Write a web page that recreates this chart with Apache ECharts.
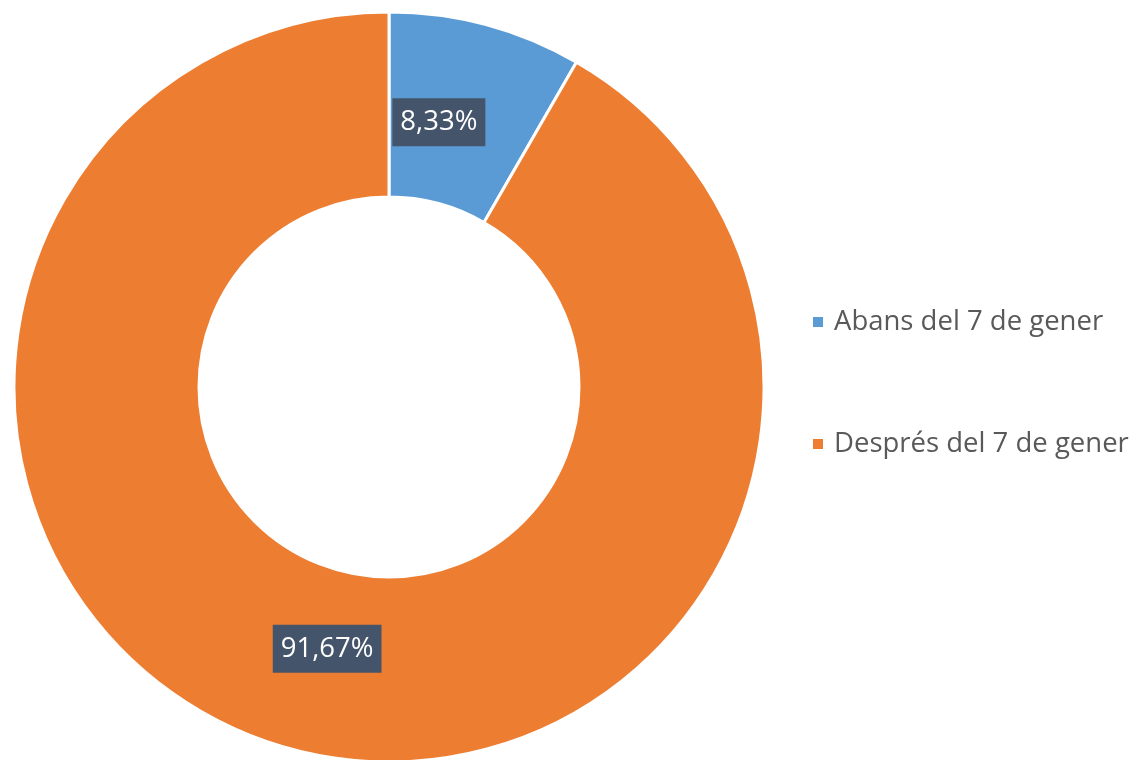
<!DOCTYPE html>
<html>
<head>
<meta charset="utf-8">
<script src="https://cdn.jsdelivr.net/npm/echarts@6/dist/echarts.min.js"></script>
<style>html,body{margin:0;padding:0;background:#fff;}#c{width:1135px;height:760px;}</style>
</head>
<body>
<div id="c"></div>
<script>
const categories = ['Abans del 7 de gener', 'Després del 7 de gener'];
const values = [8.33, 91.67];
const colors = ['#5B9BD5', '#ED7D31'];

const chart = echarts.init(document.getElementById('c'));
const labelShift = [[-24, 11], [12, -14]];
chart.setOption({
  animation: false,
  legend: {
    orient: 'vertical',
    left: 811,
    top: 308,
    padding: 0,
    icon: 'rect',
    itemWidth: 12,
    itemHeight: 12,
    itemGap: 94,
    textStyle: { color: '#595959', fontSize: 27.5, fontFamily: 'Open Sans', padding: [0, 0, 0, 5] },
    data: categories
  },
  series: [{
    type: 'pie',
    center: [389, 387],
    radius: [190, 375],
    startAngle: 90,
    clockwise: true,
    itemStyle: { borderColor: '#fff', borderWidth: 3 },
    label: {
      show: true,
      position: 'inside',
      formatter: p => p.value.toFixed(2).replace('.', ',') + '%',
      color: '#fff',
      fontSize: 27.5,
      fontFamily: 'Open Sans',
      backgroundColor: '#44546A',
      padding: [11, 8, 9, 8]
    },
    labelLine: { show: false },
    labelLayout: p => ({ dx: labelShift[p.dataIndex][0], dy: labelShift[p.dataIndex][1] }),
    data: categories.map((n, i) => ({ name: n, value: values[i], itemStyle: { color: colors[i] } }))
  }]
});
</script>
</body>
</html>
